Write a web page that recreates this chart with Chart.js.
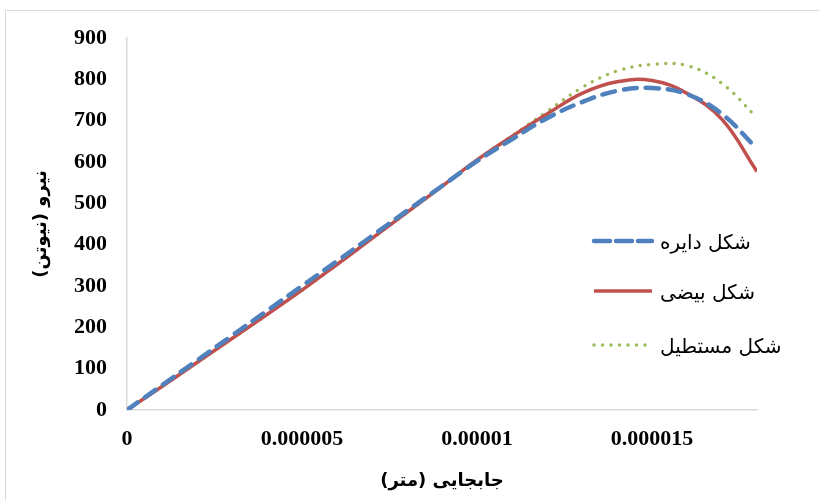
<!DOCTYPE html>
<html>
<head>
<meta charset="utf-8">
<script src="https://cdn.jsdelivr.net/npm/chart.js@4"></script>
<style>
  html, body { margin:0; padding:0; background:#fff; overflow:hidden; }
  #frame { position:absolute; left:5px; top:10px; width:900px; height:600px; border:1.5px solid #d9d9d9; }
  #wrap { position:absolute; left:0; top:0; width:819px; height:500px; }
</style>
</head>
<body>
<div id="frame"></div>
<div id="wrap"><canvas id="chart" dir="rtl" width="819" height="500"></canvas></div>
<script>
'use strict';

// ── Data: displacement (m) vs force (N) ──────────────────────────────────────
var disp = [0, 1e-6, 2e-6, 3e-6, 4e-6, 5e-6, 6e-6, 7e-6, 8e-6, 9e-6, 10e-6,
            11e-6, 12e-6, 13e-6, 14e-6, 15e-6, 16e-6, 17e-6, 18e-6];
var circleForce  = [0, 60, 120, 180, 240, 300, 360, 421, 482, 542, 602, 655, 706, 745, 772, 779, 764, 716, 632];
var ellipseForce = [0, 57, 115, 173, 231, 290, 352, 415, 478, 541, 605, 662, 716, 766, 794, 797, 766, 703, 577];
var rectForce    = [0, 57, 115, 173, 231, 290, 352, 415, 478, 541, 605, 663, 722, 780, 820, 836, 833, 790, 707];

var seriesNames = ['شکل دایره', 'شکل بیضی', 'شکل مستطیل'];
var xTickValues = [0, 5e-6, 10e-6, 15e-6];
var xTickLabels = ['0', '0.000005', '0.00001', '0.000015'];
var xTitle = 'جابجایی (متر)';
var yTitle = 'نیرو (نیوتن)';

function pts(ys) { return ys.map(function(y, i) { return { x: disp[i], y: y }; }); }

var TICK_FONT = { family: '"Liberation Serif", "Times New Roman", serif', size: 22, weight: 'bold' };
var TITLE_FONT = { family: '"DejaVu Sans", sans-serif', size: 18, weight: 'bold' };

// ── Legend drawn inside the plot, sample line then label ─────────────────────
var insideLegend = {
  id: 'insideLegend',
  afterDraw: function(chart) {
    var ctx = chart.ctx;
    var rows = [241, 291, 345];
    chart.data.datasets.forEach(function(ds, i) {
      var y = rows[i];
      ctx.save();
      ctx.strokeStyle = ds.borderColor;
      ctx.lineWidth = ds.borderWidth;
      ctx.lineCap = ds.borderCapStyle || 'butt';
      ctx.setLineDash(ds.legendDash || ds.borderDash || []);
      ctx.beginPath();
      ctx.moveTo(594, y);
      ctx.lineTo(652, y);
      ctx.stroke();
      ctx.setLineDash([]);
      ctx.fillStyle = '#000';
      ctx.font = '20px "DejaVu Sans", sans-serif';
      ctx.direction = 'rtl';
      ctx.textAlign = 'left';
      ctx.textBaseline = 'middle';
      ctx.fillText(ds.label, 660, y + 3);
      ctx.restore();
    });
  }
};

new Chart(document.getElementById('chart'), {
  type: 'scatter',
  data: {
    datasets: [
      { label: seriesNames[0], data: pts(circleForce), showLine: true, borderColor: '#4f81bd', borderWidth: 4.5,
        borderDash: [13, 9], borderCapStyle: 'round', legendDash: [16, 6], pointRadius: 0, tension: 0.4 },
      { label: seriesNames[1], data: pts(ellipseForce), showLine: true, borderColor: '#c0504d', borderWidth: 3.5,
        pointRadius: 0, tension: 0.4 },
      { label: seriesNames[2], data: pts(rectForce), showLine: true, borderColor: '#9bbb59', borderWidth: 3.5,
        borderDash: [0, 8.5], borderCapStyle: 'round', pointRadius: 0, tension: 0.4 }
    ]
  },
  options: {
    responsive: false, animation: false,
    layout: { padding: { left: 0, top: 38, right: 62, bottom: 0 } },
    plugins: { legend: { display: false }, tooltip: { enabled: false } },
    scales: {
      x: {
        type: 'linear', min: 0, max: 18e-6,
        grid: { display: false, drawTicks: false },
        border: { display: true, color: '#d9d9d9', width: 1.5 },
        afterBuildTicks: function(s) { s.ticks = xTickValues.map(function(v) { return { value: v }; }); },
        afterFit: function(s) { s.height = 90; },
        ticks: { color: '#000', font: TICK_FONT, padding: 16, maxRotation: 0,
                 callback: function(v, i) { return xTickLabels[i]; } },
        title: { display: true, text: xTitle, color: '#000', font: TITLE_FONT, padding: { top: 0, bottom: 8 } }
      },
      y: {
        min: 0, max: 900,
        grid: { display: false, drawTicks: false },
        border: { display: true, color: '#d9d9d9', width: 1.5 },
        afterFit: function(s) { s.width = 127; },
        ticks: { stepSize: 100, color: '#000', font: TICK_FONT, padding: 20 },
        title: { display: true, text: yTitle, color: '#000', font: TITLE_FONT, padding: { top: 31, bottom: 0 } }
      }
    }
  },
  plugins: [insideLegend]
});
</script>
</body>
</html>
